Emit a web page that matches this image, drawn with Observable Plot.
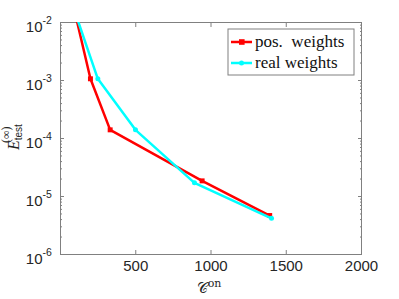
<!DOCTYPE html>
<html>
<head>
<meta charset="utf-8">
<script src="https://cdn.jsdelivr.net/npm/d3@7"></script>
<script src="https://cdn.jsdelivr.net/npm/@observablehq/plot@0.6"></script>
<style>
  html, body { margin: 0; padding: 0; background: #fff; }
  #chart { width: 399px; height: 299px; }
</style>
</head>
<body>
<div id="chart"></div>
<script>
// Data
const posX = [93, 199, 330, 941, 1390];
const posY = [1.6e-2, 1.07e-3, 1.41e-4, 1.86e-5, 4.7e-6];
const realX = [93, 248, 498, 890, 1402];
const realY = [1.6e-2, 1.07e-3, 1.41e-4, 1.72e-5, 4.2e-6];
const xTicks = [500, 1000, 1500, 2000];
const yTicks = [1e-6, 1e-5, 1e-4, 1e-3, 1e-2];
const seriesNames = ["pos.\u00A0 weights", "real weights"];
const seriesColors = ["#ff0000", "#00ffff"];

const pos = posX.map((x, i) => ({x, y: posY[i]}));
const real = realX.map((x, i) => ({x, y: realY[i]}));
const yMinor = [];
for (const d of yTicks.slice(0, -1)) for (let k = 2; k <= 9; k++) yMinor.push(d * k);

const axisColor = "#808080";
const plot = Plot.plot({
  width: 399, height: 299,
  marginLeft: 60, marginRight: 38, marginTop: 22, marginBottom: 45,
  style: {fontFamily: "'Liberation Sans', Arial, sans-serif", fontSize: "15px", color: "#262626", background: "#fff"},
  x: {domain: [0, 2000]},
  y: {type: "log", domain: [1e-6, 1e-2]},
  marks: [
    Plot.frame({stroke: axisColor}),
    Plot.axisX(xTicks, {anchor: "bottom", tickSize: -4, stroke: axisColor, tickFormat: d => String(d), fill: "#262626", tickPadding: 10, fontSize: 15, label: null}),
    Plot.axisX(xTicks, {anchor: "top", tickSize: -4, stroke: axisColor, tickFormat: () => "", label: null}),
    Plot.axisY(yTicks, {anchor: "left", tickSize: -4, stroke: axisColor, tickFormat: () => "", label: null}),
    Plot.axisY(yTicks, {anchor: "right", tickSize: -4, stroke: axisColor, tickFormat: () => "", label: null}),
    Plot.axisY(yMinor, {anchor: "left", tickSize: -2, stroke: axisColor, tickFormat: () => "", label: null}),
    Plot.axisY(yMinor, {anchor: "right", tickSize: -2, stroke: axisColor, tickFormat: () => "", label: null}),
    Plot.text(yTicks, {y: d => d, frameAnchor: "left", text: () => "10", textAnchor: "end", dx: -18, dy: 5, fontSize: 15, fill: "#262626"}),
    Plot.text(yTicks, {y: d => d, frameAnchor: "left", text: d => String(Math.round(Math.log10(d))), textAnchor: "start", dx: -18, dy: -2, fontSize: 10.5, fill: "#262626"}),
    Plot.line(pos, {x: "x", y: "y", stroke: seriesColors[0], strokeWidth: 2.5, clip: true}),
    Plot.dot(pos, {x: "x", y: "y", symbol: "square", r: 2.8, fill: seriesColors[0], clip: true}),
    Plot.line(real, {x: "x", y: "y", stroke: seriesColors[1], strokeWidth: 2.5, clip: true}),
    Plot.dot(real, {x: "x", y: "y", symbol: "circle", r: 2.5, fill: seriesColors[1], clip: true})
  ]
});
document.getElementById("chart").appendChild(plot);

const svg = d3.select(plot);
// x label: calligraphic C with superscript "on"
const xl = svg.append("text")
  .attr("x", 209).attr("y", 293)
  .attr("text-anchor", "middle")
  .style("font-family", "'DejaVu Serif', 'Liberation Serif', serif")
  .style("font-size", "15px").attr("fill", "#262626");
xl.append("tspan").text("\u{1D49E}");
xl.append("tspan").attr("dy", -6).style("font-size", "11px").text("on");

// y label: E_test^(∞)
const yl = svg.append("text")
  .attr("transform", "translate(19,150) rotate(-90)")
  .attr("text-anchor", "start")
  .style("font-family", "'Liberation Serif', 'DejaVu Serif', serif")
  .style("font-size", "16px").attr("fill", "#262626");
yl.append("tspan").style("font-style", "italic").text("E");
yl.append("tspan").attr("dy", 3).style("font-size", "10px").style("font-family", "'Liberation Sans', sans-serif").text("test");
svg.append("text")
  .attr("transform", "translate(10,143) rotate(-90)")
  .attr("text-anchor", "start")
  .style("font-family", "'Liberation Serif', 'DejaVu Serif', serif")
  .style("font-size", "12px").attr("fill", "#262626")
  .text("(\u221E)");

// legend
const lg = svg.append("g");
lg.append("rect").attr("x", 228).attr("y", 29).attr("width", 126).attr("height", 46)
  .attr("fill", "#fff").attr("stroke", "#808080").attr("stroke-width", 1);
seriesNames.forEach((name, i) => {
  const yy = 42 + i * 21;
  lg.append("line").attr("x1", 231).attr("x2", 252).attr("y1", yy).attr("y2", yy)
    .attr("stroke", seriesColors[i]).attr("stroke-width", 2.5);
  if (i === 0) lg.append("rect").attr("x", 239).attr("y", yy - 2.8).attr("width", 5.6).attr("height", 5.6).attr("fill", seriesColors[i]);
  else lg.append("circle").attr("cx", 241.5).attr("cy", yy).attr("r", 2.5).attr("fill", seriesColors[i]);
  lg.append("text").attr("x", 255).attr("y", yy + 5)
    .attr("text-anchor", "start")
    .style("font-family", "'Liberation Serif', 'DejaVu Serif', serif")
    .style("font-size", "17px").attr("fill", "#111")
    .text(name);
});
</script>
</body>
</html>
